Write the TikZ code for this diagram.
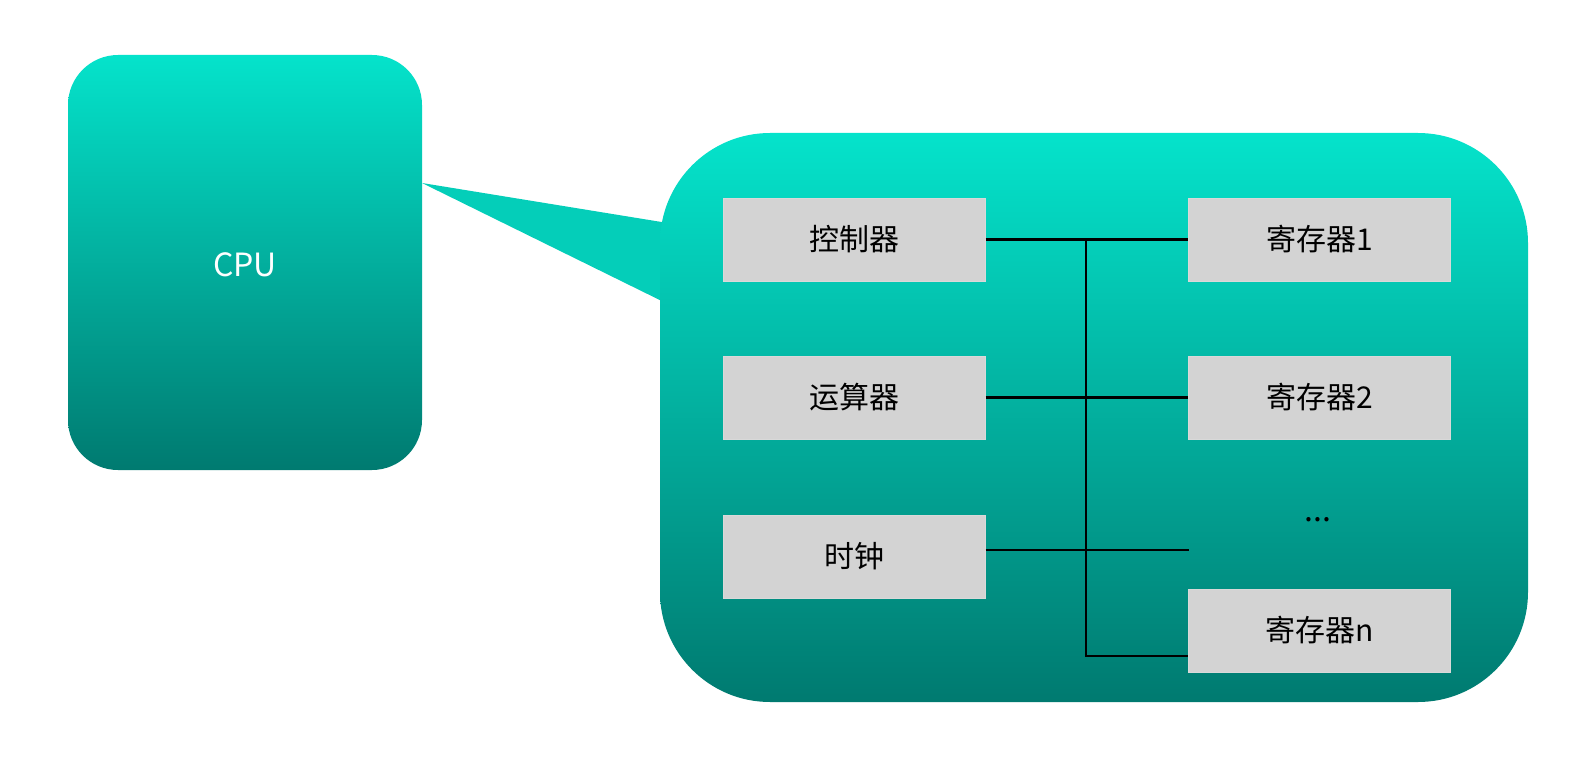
\documentclass[tikz,border=0pt]{standalone}
\usepackage{fontspec}
\setmainfont{Noto Sans CJK SC}
\definecolor{tealtop}{HTML}{05E3CB}
\definecolor{tealbot}{HTML}{007A70}
\definecolor{boxgray}{HTML}{D3D3D3}
\begin{document}
\begin{tikzpicture}[x=1pt,y=-1pt,
  graybox/.style={draw=white!85!black,line width=1pt,fill=boxgray,minimum width=262pt,minimum height=83pt,inner sep=0pt,font=\fontsize{30}{36}\selectfont},
  bus/.style={line width=2.5pt,black}]
\useasboundingbox (0,0) rectangle (1577,765);
\shade[top color=tealtop,bottom color=tealbot,rounded corners=50pt] (68,55) rectangle (422,470);
\node[text=white,font=\fontsize{32}{38}\selectfont] (cpu) at (245,265) {CPU};
\fill[tealtop!80!tealbot] (422,183) -- (680,225) -- (680,310) -- cycle;
\shade[top color=tealtop,bottom color=tealbot,rounded corners=110pt] (660,133) rectangle (1528,702);
\node[graybox] (c) at (854,239.5) {控制器};
\node[graybox] (a) at (854,397.5) {运算器};
\node[graybox] (t) at (854,556.5) {时钟};
\node[graybox] (r1) at (1319.5,239.5) {寄存器1};
\node[graybox] (r2) at (1319.5,397.5) {寄存器2};
\node[graybox] (rn) at (1319.5,630.5) {寄存器n};
\node[font=\fontsize{32}{38}\selectfont] (dots) at (1318,520) {...};
\coordinate (tend) at (1189,550);
\coordinate (top) at (1086,239.5);
\coordinate (bot) at (1086,656);
\draw[bus] (c.east) -- (r1.west);
\draw[bus] (a.east) -- (r2.west);
\draw[bus] (t.east |- tend) -- (tend);
\draw[bus] (top) -- (bot) -- (rn.west |- bot);
\end{tikzpicture}
\end{document}
